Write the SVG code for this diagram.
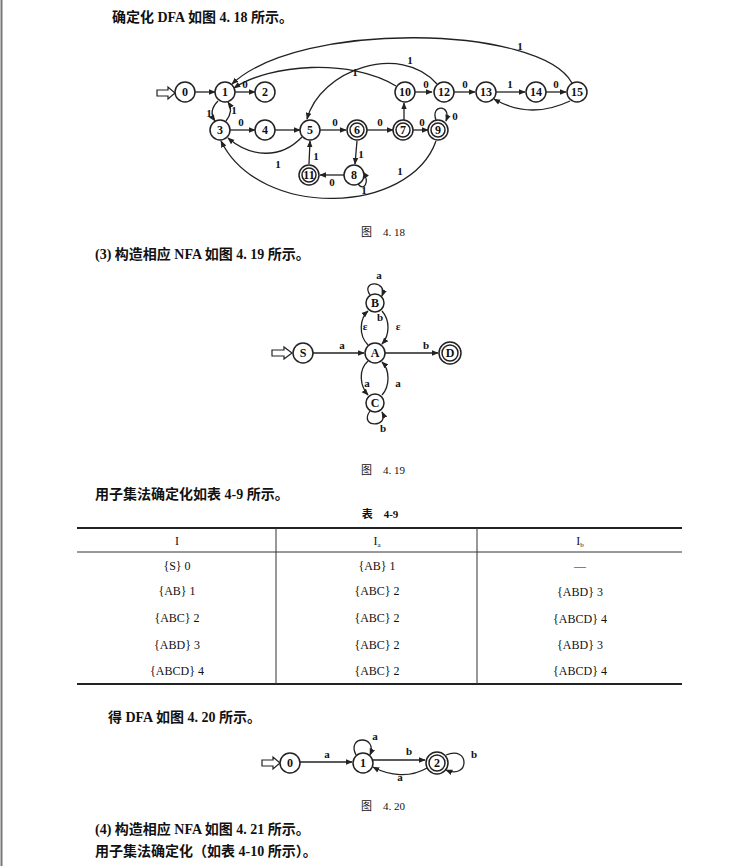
<svg xmlns="http://www.w3.org/2000/svg" width="749" height="866" viewBox="0 0 749 866">
<defs>
<marker id="ah" viewBox="0 0 10 10" refX="9" refY="5" markerWidth="7" markerHeight="7" orient="auto" markerUnits="userSpaceOnUse"><path d="M0,1 L10,5 L0,9 Z" fill="#222"/></marker>
</defs>
<style>
.t{font-family:"Liberation Serif","Noto Sans CJK SC",serif;font-size:14px;fill:#111;font-weight:bold}
.c{font-family:"Liberation Serif","Noto Sans CJK SC",serif;font-size:11px;fill:#111;text-anchor:middle}
.n circle{fill:#fff;stroke:#222;stroke-width:1.5}
.n text{font-family:"Liberation Serif",serif;font-size:12px;font-weight:bold;text-anchor:middle;fill:#111}
.e path,.e line{fill:none;stroke:#222;stroke-width:1.3;marker-end:url(#ah)}
.l{font-family:"Liberation Serif",serif;font-size:11px;font-weight:bold;text-anchor:middle;fill:#111}
.tb{font-family:"Liberation Serif",serif;font-size:12px;text-anchor:middle;fill:#111}
.in{fill:#fff;stroke:#222;stroke-width:1.2}
</style>
<rect width="749" height="866" fill="#fff"/>
<line x1="1.5" y1="0" x2="1.5" y2="866" stroke="#777" stroke-width="2"/>
<text class="t" x="112" y="22">确定化 DFA 如图 4. 18 所示。</text>
<text class="c" x="383" y="236">图　4. 18</text>
<text class="t" x="95" y="259">(3) 构造相应 NFA 如图 4. 19 所示。</text>
<text class="c" x="383" y="474">图　4. 19</text>
<text class="t" x="95" y="499">用子集法确定化如表 4-9 所示。</text>
<text class="c" x="380" y="518" font-weight="bold">表　4-9</text>
<text class="t" x="108" y="722">得 DFA 如图 4. 20 所示。</text>
<text class="c" x="383" y="810">图　4. 20</text>
<text class="t" x="95" y="834">(4) 构造相应 NFA 如图 4. 21 所示。</text>
<text class="t" x="95" y="856">用子集法确定化（如表 4-10 所示）。</text>

<!-- Fig 4.18 -->
<g id="edges418" class="e">
<line x1="195" y1="92" x2="215" y2="92"/>
<line x1="235" y1="92" x2="255" y2="92"/>
<path d="M218,101 Q208,111 215,121"/>
<path d="M226,121 Q234,111 228,102"/>
<line x1="230" y1="130" x2="255" y2="130"/>
<line x1="275" y1="130" x2="300" y2="130"/>
<line x1="320" y1="130" x2="346" y2="130"/>
<line x1="367" y1="130" x2="393" y2="130"/>
<line x1="413" y1="130" x2="428" y2="130"/>
<path d="M436,120 C430,104 452,104 446,121"/>
<line x1="404" y1="120" x2="404" y2="103"/>
<line x1="415" y1="92" x2="432" y2="92"/>
<line x1="454" y1="92" x2="475" y2="92"/>
<line x1="496" y1="92" x2="525" y2="92"/>
<line x1="546" y1="92" x2="566" y2="92"/>
<path d="M570,101 Q530,120 494,99"/>
<path d="M572,83 C540,25 300,20 232,84"/>
<path d="M396,86 C350,58 270,64 234,88"/>
<path d="M437,84 C400,42 320,70 307,119"/>
<path d="M302,137 C280,160 250,157 228,138"/>
<line x1="357" y1="141" x2="355" y2="164"/>
<line x1="344" y1="175" x2="320" y2="175"/>
<line x1="309" y1="164" x2="310" y2="141"/>
<path d="M358,184 C364,192 370,182 363,172"/>
<path d="M436,141 C410,215 260,220 221,141"/>
</g>
<polygon class="in" points="157,90 168,90 168,87 175,93 168,99 168,96 157,96"/>
<g font-family="Liberation Serif">
<text class="l" x="245" y="88">0</text>
<text class="l" x="209" y="117">1</text>
<text class="l" x="234" y="114">1</text>
<text class="l" x="241" y="126">0</text>
<text class="l" x="335" y="126">0</text>
<text class="l" x="380" y="126">0</text>
<text class="l" x="422" y="126">0</text>
<text class="l" x="455" y="120">0</text>
<text class="l" x="426" y="88">0</text>
<text class="l" x="465" y="88">0</text>
<text class="l" x="510" y="88">1</text>
<text class="l" x="556" y="88">0</text>
<text class="l" x="520" y="50">1</text>
<text class="l" x="355" y="76">1</text>
<text class="l" x="410" y="64">1</text>
<text class="l" x="278" y="168">1</text>
<text class="l" x="361" y="158">1</text>
<text class="l" x="332" y="186">0</text>
<text class="l" x="316" y="160">1</text>
<text class="l" x="364" y="194">1</text>
<text class="l" x="400" y="175">1</text>
</g>
<g id="n0" class="n"><circle cx="185" cy="92" r="10"/><text x="185" y="96">0</text></g>
<g id="n1" class="n"><circle cx="225" cy="92" r="10"/><text x="225" y="96">1</text></g>
<g id="n2" class="n"><circle cx="265" cy="92" r="10"/><text x="265" y="96">2</text></g>
<g id="n3" class="n"><circle cx="220" cy="130" r="10"/><text x="220" y="134">3</text></g>
<g id="n4" class="n"><circle cx="265" cy="130" r="10"/><text x="265" y="134">4</text></g>
<g id="n5" class="n"><circle cx="310" cy="130" r="10"/><text x="310" y="134">5</text></g>
<g id="n6" class="n"><circle cx="357" cy="130" r="10"/><circle cx="357" cy="130" r="7"/><text x="357" y="134">6</text></g>
<g id="n7" class="n"><circle cx="403" cy="130" r="10"/><circle cx="403" cy="130" r="7"/><text x="403" y="134">7</text></g>
<g id="n9" class="n"><circle cx="438" cy="130" r="10"/><circle cx="438" cy="130" r="7"/><text x="438" y="134">9</text></g>
<g id="n10" class="n"><circle cx="405" cy="92" r="10"/><text x="405" y="96">10</text></g>
<g id="n12" class="n"><circle cx="444" cy="92" r="10"/><text x="444" y="96">12</text></g>
<g id="n13" class="n"><circle cx="486" cy="92" r="10"/><text x="486" y="96">13</text></g>
<g id="n14" class="n"><circle cx="536" cy="92" r="10"/><text x="536" y="96">14</text></g>
<g id="n15" class="n"><circle cx="577" cy="92" r="10"/><text x="577" y="96">15</text></g>
<g id="n8" class="n"><circle cx="354" cy="175" r="10"/><text x="354" y="179">8</text></g>
<g id="n11" class="n"><circle cx="309" cy="175" r="10"/><circle cx="309" cy="175" r="7"/><text x="309" y="179">11</text></g>

<!-- Fig 4.19 -->
<g id="edges419" class="e">
<line x1="313" y1="353" x2="364" y2="353"/>
<line x1="385" y1="353" x2="438" y2="353"/>
<path d="M370,295 C360,280 388,280 382,296"/>
<path d="M368,345 C358,335 360,318 368,311"/>
<path d="M382,311 C390,320 390,335 382,344"/>
<path d="M368,361 C358,370 360,386 368,395"/>
<path d="M382,395 C390,386 390,370 382,362"/>
<path d="M370,411 C358,428 390,428 382,412"/>
</g>
<polygon class="in" points="272,350 284,350 284,347 292,353 284,359 284,356 272,356"/>
<text class="l" x="342" y="349">a</text>
<text class="l" x="426" y="349">b</text>
<text class="l" x="379" y="279">a</text>
<text class="l" x="380" y="321">b</text>
<text class="l" x="365" y="330">ε</text>
<text class="l" x="398" y="330">ε</text>
<text class="l" x="367" y="387">a</text>
<text class="l" x="398" y="387">a</text>
<text class="l" x="383" y="432">b</text>
<g id="nS" class="n"><circle cx="303" cy="353" r="10"/><text x="303" y="357">S</text></g>
<g id="nA" class="n"><circle cx="375" cy="353" r="10"/><text x="375" y="357">A</text></g>
<g id="nB" class="n"><circle cx="375" cy="303" r="9"/><text x="375" y="307">B</text></g>
<g id="nC" class="n"><circle cx="375" cy="403" r="9"/><text x="375" y="407">C</text></g>
<g id="nD" class="n"><circle cx="450" cy="353" r="11"/><circle cx="450" cy="353" r="8"/><text x="450" y="357">D</text></g>

<!-- Table 4-9 -->
<g id="table">
<line x1="77" y1="528" x2="682" y2="528" stroke="#222" stroke-width="2"/>
<line x1="77" y1="552" x2="682" y2="552" stroke="#333" stroke-width="1"/>
<line x1="77" y1="684" x2="682" y2="684" stroke="#222" stroke-width="2"/>
<line x1="276" y1="528" x2="276" y2="684" stroke="#333" stroke-width="1"/>
<line x1="477" y1="528" x2="477" y2="684" stroke="#333" stroke-width="1"/>
<text class="tb" x="177" y="545">I</text>
<text class="tb" x="377" y="545">I<tspan font-size="7" dy="2">a</tspan></text>
<text class="tb" x="580" y="545">I<tspan font-size="7" dy="2">b</tspan></text>
<text class="tb" x="177" y="570">{S} 0</text>
<text class="tb" x="377" y="570">{AB} 1</text>
<text class="tb" x="580" y="570">—</text>
<text class="tb" x="177" y="595">{AB} 1</text>
<text class="tb" x="377" y="595">{ABC} 2</text>
<text class="tb" x="580" y="596">{ABD} 3</text>
<text class="tb" x="177" y="622">{ABC} 2</text>
<text class="tb" x="377" y="622">{ABC} 2</text>
<text class="tb" x="580" y="623">{ABCD} 4</text>
<text class="tb" x="177" y="649">{ABD} 3</text>
<text class="tb" x="377" y="649">{ABC} 2</text>
<text class="tb" x="580" y="649">{ABD} 3</text>
<text class="tb" x="177" y="675">{ABCD} 4</text>
<text class="tb" x="377" y="675">{ABC} 2</text>
<text class="tb" x="580" y="675">{ABCD} 4</text>
</g>

<!-- Fig 4.20 -->
<g id="edges420" class="e">
<line x1="300" y1="762" x2="352" y2="762"/>
<line x1="373" y1="760" x2="425" y2="760"/>
<path d="M427,768 C410,778 390,776 373,767"/>
<path d="M356,755 C346,735 378,735 370,755"/>
<path d="M446,755 C470,745 470,780 446,770"/>
</g>
<polygon class="in" points="262,760 273,760 273,757 280,763 273,769 273,766 262,766"/>
<text class="l" x="327" y="758">a</text>
<text class="l" x="375" y="740">a</text>
<text class="l" x="409" y="755">b</text>
<text class="l" x="400" y="781">a</text>
<text class="l" x="474" y="758">b</text>
<g id="m0" class="n"><circle cx="290" cy="763" r="10"/><text x="290" y="767">0</text></g>
<g id="m1" class="n"><circle cx="363" cy="763" r="10"/><text x="363" y="767">1</text></g>
<g id="m2" class="n"><circle cx="437" cy="763" r="11"/><circle cx="437" cy="763" r="8"/><text x="437" y="767">2</text></g>
</svg>
